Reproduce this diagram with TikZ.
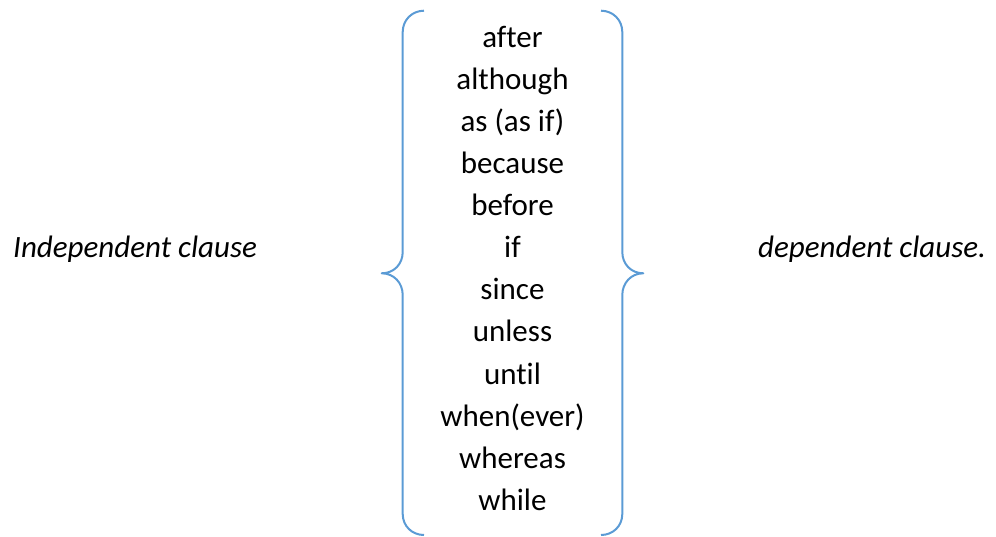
\documentclass[tikz,border=0pt]{standalone}
\usepackage{fontspec}
\setmainfont[Ligatures=CommonOff]{Carlito}
\definecolor{bracecol}{HTML}{5B9BD5}
\begin{document}
\begin{tikzpicture}[x=1pt,y=-1pt,
  brace/.style={draw=bracecol, line width=2pt, line join=round},
  word/.style={anchor=base, inner sep=0pt, font=\fontsize{31}{37}\selectfont},
  side/.style={anchor=base west, inner sep=0pt, font=\fontsize{31}{37}\selectfont\itshape}]
\useasboundingbox (0,0) rectangle (996,536);
% braces
\draw[brace] (424,10.7) .. controls (412,10.7) and (402.7,20) .. (402.7,32)
  -- (402.7,252) .. controls (402.7,264) and (394,273.3) .. (381.7,273.3)
  .. controls (394,273.3) and (402.7,283) .. (402.7,295)
  -- (402.7,514) .. controls (402.7,526) and (412,535) .. (424,535);
\draw[brace] (601,10.7) .. controls (613,10.7) and (622.3,20) .. (622.3,32)
  -- (622.3,252) .. controls (622.3,264) and (631,273.3) .. (643.3,273.3)
  .. controls (631,273.3) and (622.3,283) .. (622.3,295)
  -- (622.3,514) .. controls (622.3,526) and (613,535) .. (601,535);
% list
\node[word] (w1) at (512.5,47) {after};
\node[word] (w2) at (512.5,89) {although};
\node[word] (w3) at (512.5,131) {as (as if)};
\node[word] (w4) at (512.5,173) {because};
\node[word] (w5) at (512.5,215) {before};
\node[word] (w6) at (512.5,257) {if};
\node[word] (w7) at (512.5,299) {since};
\node[word] (w8) at (512.5,341) {unless};
\node[word] (w9) at (512.5,384) {until};
\node[word] (w10) at (512.5,426) {when(ever)};
\node[word] (w11) at (512.5,468) {whereas};
\node[word] (w12) at (512.5,510) {while};
% sides
\node[side] (ind) at (13,257) {Independent clause};
\node[side] (dep) at (758,257) {dependent clause.};
\end{tikzpicture}
\end{document}
